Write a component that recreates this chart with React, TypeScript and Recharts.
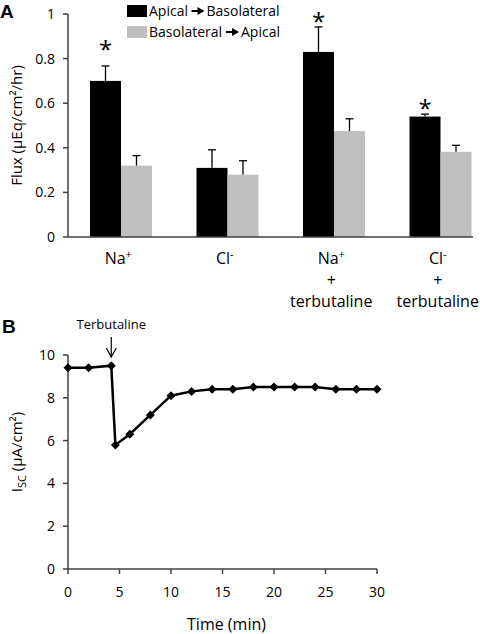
import React from 'react';
import { BarChart, Bar, XAxis, YAxis, Legend, LineChart, Line, ReferenceDot } from 'recharts';

// ---------- Panel A data ----------
const ionNames = ['Na', 'Cl', 'Na', 'Cl'];
const ionCharges = ['+', '-', '+', '-'];
const treatments = ['', '', 'terbutaline', 'terbutaline'];
const apicalToBasolateral = [0.70, 0.31, 0.83, 0.54];
const apicalToBasolateralErr = [0.067, 0.081, 0.112, 0.011];
const basolateralToApical = [0.32, 0.28, 0.475, 0.382];
const basolateralToApicalErr = [0.045, 0.062, 0.055, 0.029];
const significanceMark = [0.865, null, 0.99, 0.60];
const fluxTicks = [0, 0.2, 0.4, 0.6, 0.8, 1];
const seriesNames = ['Apical|Basolateral', 'Basolateral|Apical'];

// ---------- Panel B data ----------
const timeMin = [0, 2, 4.2, 4.6, 6, 8, 10, 12, 14, 16, 18, 20, 22, 24, 26, 28, 30];
const iscValues = [9.4, 9.4, 9.5, 5.8, 6.3, 7.2, 8.1, 8.3, 8.4, 8.4, 8.5, 8.5, 8.5, 8.5, 8.4, 8.4, 8.4];
const timeTicks = [0, 5, 10, 15, 20, 25, 30];
const iscTicks = [0, 2, 4, 6, 8, 10];
const terbutalineAt = 4.2;

const FONT = '"Open Sans", sans-serif';
const AXIS = '#404040';
const BLACK = '#000000';
const GRAY = '#bfbfbf';

const makeBarShape = (valueKey: string, errKey: string, starKey?: string) => (props: any) => {
  const { x, y, width, height, fill, payload } = props;
  const v = payload[valueKey];
  const ppu = height / v;
  const base = y + height;
  const cx = x + width / 2;
  const errTop = base - (v + payload[errKey]) * ppu;
  const star = starKey ? payload[starKey] : null;
  const fs = 24;
  return (
    <g>
      <rect x={x} y={y} width={width} height={height} fill={fill} />
      <line x1={cx} y1={y} x2={cx} y2={errTop} stroke="#000" strokeWidth={1.3} />
      <line x1={cx - 4} y1={errTop} x2={cx + 4} y2={errTop} stroke="#000" strokeWidth={1.3} />
      {star != null && (
        <text x={cx} y={base - star * ppu + 0.56 * fs} textAnchor="middle" fontSize={fs} fontFamily={FONT} fill="#000">*</text>
      )}
    </g>
  );
};

const CategoryTick = (props: any) => {
  const { x, y, index } = props;
  const fs = 16;
  const cx = x - 3;
  return (
    <g>
      <text x={cx} y={y + 27} textAnchor="middle" fontSize={fs} fontFamily={FONT} fill="#000">
        <tspan>{ionNames[index]}</tspan>
        <tspan dy={-6} fontSize={11}>{ionCharges[index]}</tspan>
      </text>
      {treatments[index] && (
        <>
          <text x={cx} y={y + 48.5} textAnchor="middle" fontSize={fs} fontFamily={FONT} fill="#000">+</text>
          <text x={cx} y={y + 69.5} textAnchor="middle" fontSize={fs} fontFamily={FONT} fill="#000">{treatments[index]}</text>
        </>
      )}
    </g>
  );
};

const FluxLabel = (p: any) => {
  const vb = p.viewBox || { x: 8, y: 14, width: 60, height: 223 };
  const bx = vb.x + 14;
  const cy = vb.y + vb.height / 2;
  return (
    <text x={bx} y={cy} transform={`rotate(-90 ${bx} ${cy})`} textAnchor="middle" fontSize={15} fontFamily={FONT} fill="#000">
      Flux (µEq/cm²/hr)
    </text>
  );
};

const IscLabel = (p: any) => {
  const vb = p.viewBox || { x: 8, y: 40, width: 60, height: 214 };
  const bx = vb.x + 14;
  const cy = vb.y + vb.height / 2 - 10;
  return (
    <text x={bx} y={cy} transform={`rotate(-90 ${bx} ${cy})`} textAnchor="middle" fontSize={15} fontFamily={FONT} fill="#000">
      <tspan>I</tspan>
      <tspan dy={4} fontSize={11}>SC</tspan>
      <tspan dy={-4}> (µA/cm²)</tspan>
    </text>
  );
};

const TimeLabel = (p: any) => {
  const vb = p.viewBox || { x: 68, y: 254, width: 309, height: 65 };
  const cx = vb.x + vb.width / 2 + 4;
  const by = vb.y + vb.height - 4;
  return (
    <text x={cx} y={by} textAnchor="middle" fontSize={16} fontFamily={FONT} fill="#000">Time (min)</text>
  );
};

const LegendArrow = ({ x, y }: { x: number; y: number }) => (
  <g>
    <line x1={x} y1={y} x2={x + 7} y2={y} stroke="#000" strokeWidth={2} />
    <polygon points={`${x + 6},${y - 4} ${x + 13},${y} ${x + 6},${y + 4}`} fill="#000" />
  </g>
);

const FluxLegend = (props: any) => {
  const payload = props.payload || [];
  const rows = payload.map((entry: any, i: number) => {
    const [from, to] = String(entry.value).split('|');
    const ry = i * 21;
    const fromW = from === 'Apical' ? 39.5 : 74;
    return (
      <g key={i}>
        <rect x={7} y={ry + 5} width={20} height={12} fill={entry.color} />
        <text x={29} y={ry + 16} fontSize={14} fontFamily={FONT} fill="#000">{from}</text>
        <LegendArrow x={29 + fromW + 3} y={ry + 11} />
        <text x={29 + fromW + 18} y={ry + 16} fontSize={14} fontFamily={FONT} fill="#000">{to}</text>
      </g>
    );
  });
  return (
    <svg width={200} height={45} style={{ display: 'block' }}>
      {rows}
    </svg>
  );
};

const Diamond = (p: any) => {
  const { cx, cy, index } = p;
  const r = 4.5;
  return <path key={`d${index}`} d={`M${cx},${cy - r} L${cx + r},${cy} L${cx},${cy + r} L${cx - r},${cy} Z`} fill="#000" />;
};

const TerbArrow = (p: any) => {
  const { cx, cy } = p;
  return (
    <g>
      <text x={cx} y={cy - 26} textAnchor="middle" fontSize={13} fontFamily={FONT} fill="#000">Terbutaline</text>
      <line x1={cx} y1={cy - 18} x2={cx} y2={cy + 2} stroke="#000" strokeWidth={1.2} />
      <polyline points={`${cx - 5},${cy - 7} ${cx},${cy + 2} ${cx + 5},${cy - 7}`} fill="none" stroke="#000" strokeWidth={1.2} />
    </g>
  );
};

export default function App() {
  const barData = ionNames.map((ion, i) => ({
    cat: `${ion}${ionCharges[i]}${treatments[i] ? ' + ' + treatments[i] : ''}`,
    ab: apicalToBasolateral[i],
    abErr: apicalToBasolateralErr[i],
    ba: basolateralToApical[i],
    baErr: basolateralToApicalErr[i],
    star: significanceMark[i],
  }));
  const lineData = timeMin.map((t, i) => ({ t, isc: iscValues[i] }));
  const tickStyle = { fill: '#000', fontSize: 14, fontFamily: FONT };

  return (
    <div style={{ position: 'absolute', left: 0, top: 0, width: 480, height: 634, overflow: 'hidden', background: '#fff' }}>
      <div style={{ position: 'absolute', left: 0, top: 0 }}>
        <BarChart width={500} height={315} data={barData} margin={{ top: 14, right: 27, bottom: 8, left: 8 }} barGap={0} barSize={31}>
          <XAxis dataKey="cat" height={70} interval={0} tickLine={false} tickSize={0} tickMargin={0}
            padding={{ left: 0, right: -21 }}
            tick={CategoryTick} axisLine={{ stroke: AXIS, strokeWidth: 1.5 }} />
          <YAxis width={60} domain={[0, 1]} ticks={fluxTicks} tickSize={5} tickMargin={8} tick={tickStyle}
            axisLine={{ stroke: AXIS, strokeWidth: 1.5 }} tickLine={{ stroke: AXIS, strokeWidth: 1.5 }}
            label={{ content: FluxLabel }} />
          <Legend layout="horizontal" verticalAlign="middle" align="center" content={FluxLegend}
            wrapperStyle={{ position: 'absolute', top: 0, left: 120, width: 200, height: 45 }} />
          <Bar dataKey="ab" name={seriesNames[0]} fill={BLACK} isAnimationActive={false} shape={makeBarShape('ab', 'abErr', 'star')} />
          <Bar dataKey="ba" name={seriesNames[1]} fill={GRAY} isAnimationActive={false} shape={makeBarShape('ba', 'baErr')} />
        </BarChart>
      </div>
      <div style={{ position: 'absolute', left: 0, top: 315 }}>
        <LineChart width={400} height={319} data={lineData} margin={{ top: 40, right: 23, bottom: 0, left: 8 }}>
          <XAxis type="number" dataKey="t" domain={[0, 30]} ticks={timeTicks} tickSize={5} tickMargin={13} height={65}
            tick={tickStyle} axisLine={{ stroke: AXIS, strokeWidth: 1.5 }} tickLine={{ stroke: AXIS, strokeWidth: 1.5 }}
            label={{ content: TimeLabel }} />
          <YAxis domain={[0, 10]} ticks={iscTicks} width={60} tickSize={5} tickMargin={8} tick={tickStyle}
            axisLine={{ stroke: AXIS, strokeWidth: 1.5 }} tickLine={{ stroke: AXIS, strokeWidth: 1.5 }}
            label={{ content: IscLabel }} />
          <ReferenceDot x={terbutalineAt} y={10} r={0} shape={TerbArrow} ifOverflow="visible" />
          <Line type="linear" dataKey="isc" stroke="#000" strokeWidth={2.5} dot={Diamond} activeDot={false} isAnimationActive={false} />
        </LineChart>
      </div>
      <svg width={480} height={634} style={{ position: 'absolute', left: 0, top: 0, pointerEvents: 'none' }}>
        <text x={0} y={18} fontSize={19} fontWeight="bold" fontFamily='"Liberation Sans", Arial, sans-serif' fill="#000">A</text>
        <text x={2} y={333} fontSize={19} fontWeight="bold" fontFamily='"Liberation Sans", Arial, sans-serif' fill="#000">B</text>
      </svg>
    </div>
  );
}
